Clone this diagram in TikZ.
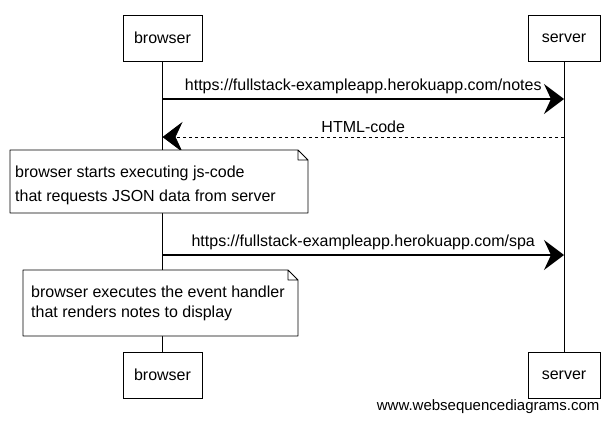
\documentclass[tikz,border=0pt]{standalone}
\usepackage{fontspec}
\setmainfont{Liberation Sans}
\usetikzlibrary{positioning,arrows.meta}

\begin{document}
\begin{tikzpicture}[x=1pt, y=-1pt,
  actor/.style={draw, line width=1pt, fill=white, minimum height=46pt, inner sep=0pt,
                font=\fontsize{16}{18}\selectfont},
  life/.style={line width=0.8pt},
  msg/.style={-{Stealth[length=20pt, width=30pt, inset=7pt]}, line width=1.2pt},
  reply/.style={msg, dashed, line width=0.8pt},
  lbl/.style={above=1pt, font=\fontsize{16}{18}\selectfont},
  note/.style={draw, fill=white, line width=0.9pt, line join=round},
  notetxt/.style={anchor=west, align=left, inner sep=0pt, font=\fontsize{16}{24}\selectfont}]
\useasboundingbox (0,0) rectangle (613,421);
\foreach \n/\x/\y/\w/\l in {bt/162.5/38/79/browser, st/564/38/72/server,
                            bb/162.5/375/79/browser, sb/564/375/72/server}
  \node[actor, minimum width=\w pt] (\n) at (\x,\y) {\l};
\draw[life] (bt) -- (bb);
\draw[life] (st) -- (sb);
\foreach \i/\y in {1/99, 2/137, 3/255} {
  \coordinate (b\i) at (162.5,\y);
  \coordinate (s\i) at (564,\y);
}
\draw[msg] (b1) -- node[lbl] (m1) {https://fullstack-exampleapp.herokuapp.com/notes} (s1);
\draw[reply] (s2) -- node[lbl] (m2) {HTML-code} (b2);
\draw[msg] (b3) -- node[lbl] (m3) {https://fullstack-exampleapp.herokuapp.com/spa} (s3);
\foreach \xa/\ya/\xb/\yb in {10/150/308/213, 23/270/298/336}
  \filldraw[note] (\xa,\ya) -- (\xb-10,\ya) -- (\xb,\ya+10) -- (\xb,\yb) -- (\xa,\yb) -- cycle
    (\xb-10,\ya) -- (\xb-10,\ya+10) -- (\xb,\ya+10);
\node[notetxt] (n1) at (15,185) {browser starts executing js-code\\that requests JSON data from server};
\node[notetxt, font=\fontsize{16}{20}\selectfont] (n2) at (31,303) {browser executes the event handler\\that renders notes to display};
\node[anchor=east, font=\fontsize{15}{17}\selectfont] (wsd) at (603,407) {www.websequencediagrams.com};
\end{tikzpicture}
\end{document}
